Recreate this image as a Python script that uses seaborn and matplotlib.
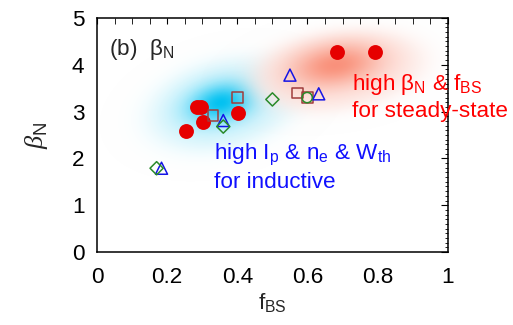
import numpy as np
import matplotlib
matplotlib.use("Agg")
import matplotlib.pyplot as plt
import seaborn as sns

# data (f_BS, beta_N)
red_x = [0.683, 0.792, 0.284, 0.296, 0.303, 0.253, 0.403]
red_y = [4.28, 4.28, 3.09, 3.09, 2.78, 2.59, 2.98]
sq_x = [0.401, 0.331, 0.571, 0.599]
sq_y = [3.30, 2.91, 3.40, 3.30]
tri_x = [0.550, 0.632, 0.360, 0.184]
tri_y = [3.78, 3.38, 2.81, 1.79]
dia_x = [0.500, 0.360, 0.170]
dia_y = [3.26, 2.68, 1.79]
circ_x = [0.599]
circ_y = [3.30]

x_ticks = [0, 0.2, 0.4, 0.6, 0.8, 1]
x_tick_labels = ["0", "0.2", "0.4", "0.6", "0.8", "1"]
y_ticks = [0, 1, 2, 3, 4, 5]

sns.set_style("white")
plt.rcParams["font.family"] = ["Liberation Sans", "DejaVu Sans"]
plt.rcParams["mathtext.fontset"] = "custom"
plt.rcParams["mathtext.rm"] = "Liberation Sans"
plt.rcParams["mathtext.it"] = "Liberation Sans:italic"
plt.rcParams["mathtext.bf"] = "Liberation Sans:bold"

FS = 16.2

fig = plt.figure(figsize=(5.13, 3.25), dpi=100)
ax = fig.add_axes([0.189, 0.2246, 0.684, 0.72])

# soft shaded regions (pixel scale per data unit so the ellipses look right)
sx, sy = 351.0, 46.8
gx, gy = np.meshgrid(np.linspace(0, 1, 500), np.linspace(0, 5, 400))


def ell_r(cx, cy, a, b, ang):
    dx = (gx - cx) * sx
    dy = (gy - cy) * sy
    t = np.deg2rad(ang)
    u = dx * np.cos(t) + dy * np.sin(t)
    v = -dx * np.sin(t) + dy * np.cos(t)
    return np.sqrt((u / a) ** 2 + (v / b) ** 2)


def glow(outer, core, rgb, base, peak, k, soft):
    r = ell_r(*outer)
    rc = ell_r(*core)
    w = (base + peak * np.exp(-k * rc ** 2))[..., None]
    col = (1 - w) * np.ones(3) + w * np.array(rgb)
    alpha = 1.0 / (1.0 + np.exp((r - 0.92) / soft))
    img = np.dstack([np.clip(col, 0, 1), alpha])
    ax.imshow(img, extent=(0, 1, 0, 5), origin="lower", aspect="auto",
              interpolation="bilinear", zorder=0)


glow((0.36, 3.15, 80, 46, 14), (0.355, 3.2, 75, 42, 14),
     (0.0, 0.76, 0.95), 0.16, 0.84, 5.0, 0.12)
glow((0.685, 3.88, 94, 43, 8), (0.68, 4.0, 80, 38, 8),
     (0.97, 0.42, 0.30), 0.14, 0.6, 3.0, 0.10)

sns.scatterplot(x=red_x, y=red_y, ax=ax, marker="o", s=115,
                color="#e60000", edgecolor="#e60000", linewidth=0, zorder=3)
sns.scatterplot(x=sq_x, y=sq_y, ax=ax, marker="s", s=60,
                facecolor="none", edgecolor="#a03c3c", linewidth=1.1, zorder=4)
sns.scatterplot(x=tri_x, y=tri_y, ax=ax, marker="^", s=75,
                facecolor="none", edgecolor="#1414e6", linewidth=1.1, zorder=4)
sns.scatterplot(x=dia_x, y=dia_y, ax=ax, marker="D", s=45,
                facecolor="none", edgecolor="#2a8a2a", linewidth=1.1, zorder=4)
sns.scatterplot(x=circ_x, y=circ_y, ax=ax, marker="o", s=55,
                facecolor="none", edgecolor="#2a8a2a", linewidth=1.1, zorder=4)

ax.set_xlim(0, 1)
ax.set_ylim(0, 5)
ax.set_xticks(x_ticks)
ax.set_xticklabels(x_tick_labels)
ax.set_yticks(y_ticks)
ax.set_xticks(np.arange(0, 1.001, 0.05), minor=True)
ax.set_yticks(np.arange(0, 5.001, 0.1), minor=True)
ax.tick_params(which="both", direction="in", top=True, right=True,
               labelsize=FS, colors="black")
ax.tick_params(axis="x", which="both", length=4, pad=11)
ax.tick_params(axis="y", which="major", length=5, pad=9)
ax.tick_params(axis="y", which="minor", length=2.5)
for sp in ax.spines.values():
    sp.set_color("black")
    sp.set_linewidth(1.1)
    sp.set_zorder(6)

ax.set_xlabel(r"f$_{\rm BS}$", fontsize=FS, labelpad=2)
# italic serif beta with an upright N subscript
ax.set_ylabel(r"β$_{\rm N}$", fontsize=19, labelpad=16,
              family="Liberation Serif", style="italic")

ax.text(0.035, 4.32, r"(b)  β$_{\rm N}$", fontsize=FS, va="center", ha="left")
ax.text(0.726, 3.46, r"high β$_{\rm N}$ & f$_{\rm BS}$", color="#ff0000",
        fontsize=FS, va="baseline", ha="left", clip_on=False, zorder=7)
ax.text(0.726, 2.88, "for steady-state", color="#ff0000",
        fontsize=FS, va="baseline", ha="left", clip_on=False, zorder=7)
ax.text(0.333, 1.97, r"high I$_{\rm p}$ & n$_{\rm e}$ & W$_{\rm th}$",
        color="#1010ff", fontsize=FS, va="baseline", ha="left", zorder=7)
ax.text(0.333, 1.37, "for inductive", color="#1010ff",
        fontsize=FS, va="baseline", ha="left", zorder=7)

fig.savefig("out.png", dpi=100)
